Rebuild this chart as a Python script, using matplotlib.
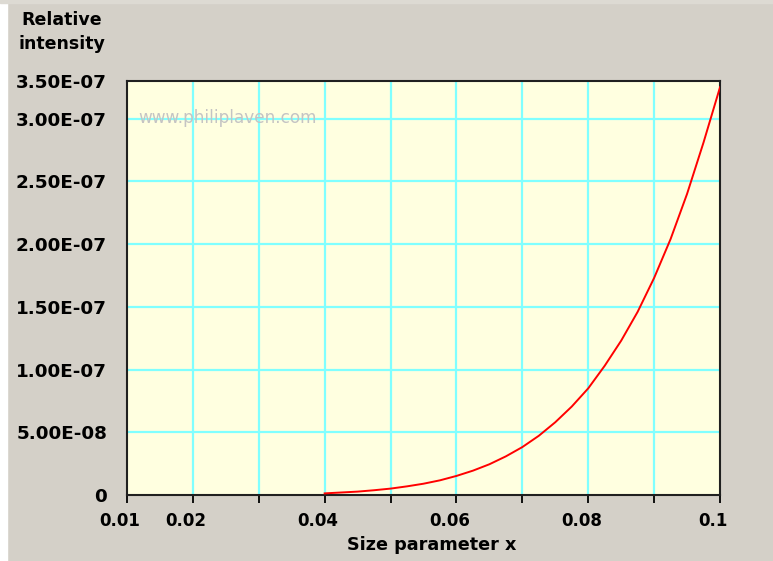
import matplotlib
matplotlib.use("Agg")
import matplotlib.pyplot as plt
from matplotlib.patches import Rectangle
from matplotlib.transforms import ScaledTranslation

# Data
size_x = [0.0400, 0.0425, 0.0450, 0.0475, 0.0500, 0.0525, 0.0550, 0.0575,
          0.0600, 0.0625, 0.0650, 0.0675, 0.0700, 0.0725, 0.0750, 0.0775,
          0.0800, 0.0825, 0.0850, 0.0875, 0.0900, 0.0925, 0.0950, 0.0975, 0.1000]
intensity = [1.3e-9, 2.0e-9, 2.7e-9, 3.8e-9, 5.1e-9, 6.9e-9, 9.0e-9, 1.17e-8,
             1.52e-8, 1.94e-8, 2.45e-8, 3.08e-8, 3.82e-8, 4.72e-8, 5.8e-8, 7.05e-8,
             8.5e-8, 1.03e-7, 1.23e-7, 1.46e-7, 1.73e-7, 2.04e-7, 2.4e-7, 2.81e-7, 3.25e-7]

x_ticks = [0.01, 0.02, 0.03, 0.04, 0.05, 0.06, 0.07, 0.08, 0.09, 0.1]
x_ticklabels = ["0.01", "0.02", "", "0.04", "", "0.06", "", "0.08", "", "0.1"]
y_ticks = [0, 5e-8, 1e-7, 1.5e-7, 2e-7, 2.5e-7, 3e-7, 3.3e-7]
y_ticklabels = ["0", "5.00E-08", "1.00E-07", "1.50E-07", "2.00E-07", "2.50E-07", "3.00E-07", "3.50E-07"]

W, H = 773, 561
bg = "#D4D0C8"
fig = plt.figure(figsize=(W / 100, H / 100), dpi=100, facecolor=bg)

# window edges
fig.patches.append(Rectangle((0, 0), 7 / W, 1, transform=fig.transFigure, color="#FFFFFF", zorder=0))
fig.patches.append(Rectangle((0, 1 - 3 / H), 1, 3 / H, transform=fig.transFigure, color="#DDDAD3", zorder=0))

L, R, T, B = 127, 720, 81, 495
ax = fig.add_axes([L / W, 1 - B / H, (R - L) / W, (B - T) / H])
ax.set_facecolor("#FFFFE0")
ax.set_xlim(0.01, 0.1)
ax.set_ylim(0, 3.3e-7)

for xv in x_ticks[1:-1]:
    ax.axvline(xv, color="#80FFFF", lw=1.6, zorder=1)
for yv in y_ticks[1:-1]:
    ax.axhline(yv, color="#80FFFF", lw=1.6, zorder=1)

ax.plot(size_x, intensity, color="#FF0000", lw=1.4, zorder=3)

ax.text(138 / W, 1 - 118 / H, "www.philiplaven.com", transform=fig.transFigure,
        fontsize=12.2, color="#C4C4C4", va="center", ha="left", zorder=2)

for s in ax.spines.values():
    s.set_color("#202020")
    s.set_linewidth(1.5)

ax.set_xticks(x_ticks)
ax.set_xticklabels(x_ticklabels, fontsize=12, fontweight="bold")
ax.tick_params(axis="x", length=6, width=1.3, color="black", pad=6)
for i, t in enumerate(ax.xaxis.get_major_ticks()):
    if x_ticks[i] in (0.02, 0.04, 0.06, 0.08):
        t.tick1line.set_color("#80FFFF")
shift = ScaledTranslation(-7 / 100, 0, fig.dpi_scale_trans)
for lab in ax.get_xticklabels():
    lab.set_transform(lab.get_transform() + shift)

ax.set_yticks(y_ticks)
ax.set_yticklabels(y_ticklabels, fontsize=13.2, fontweight="bold")
ax.tick_params(axis="y", length=0, pad=14.4)

fig.text(62 / W, 1 - 20 / H, "Relative", fontsize=12.5, fontweight="bold", ha="center", va="center")
fig.text(62 / W, 1 - 44 / H, "intensity", fontsize=12.5, fontweight="bold", ha="center", va="center")
fig.text(432 / W, 1 - 545 / H, "Size parameter x", fontsize=12.7, fontweight="bold", ha="center", va="center")

fig.savefig("out.png", dpi=100, facecolor=bg)
